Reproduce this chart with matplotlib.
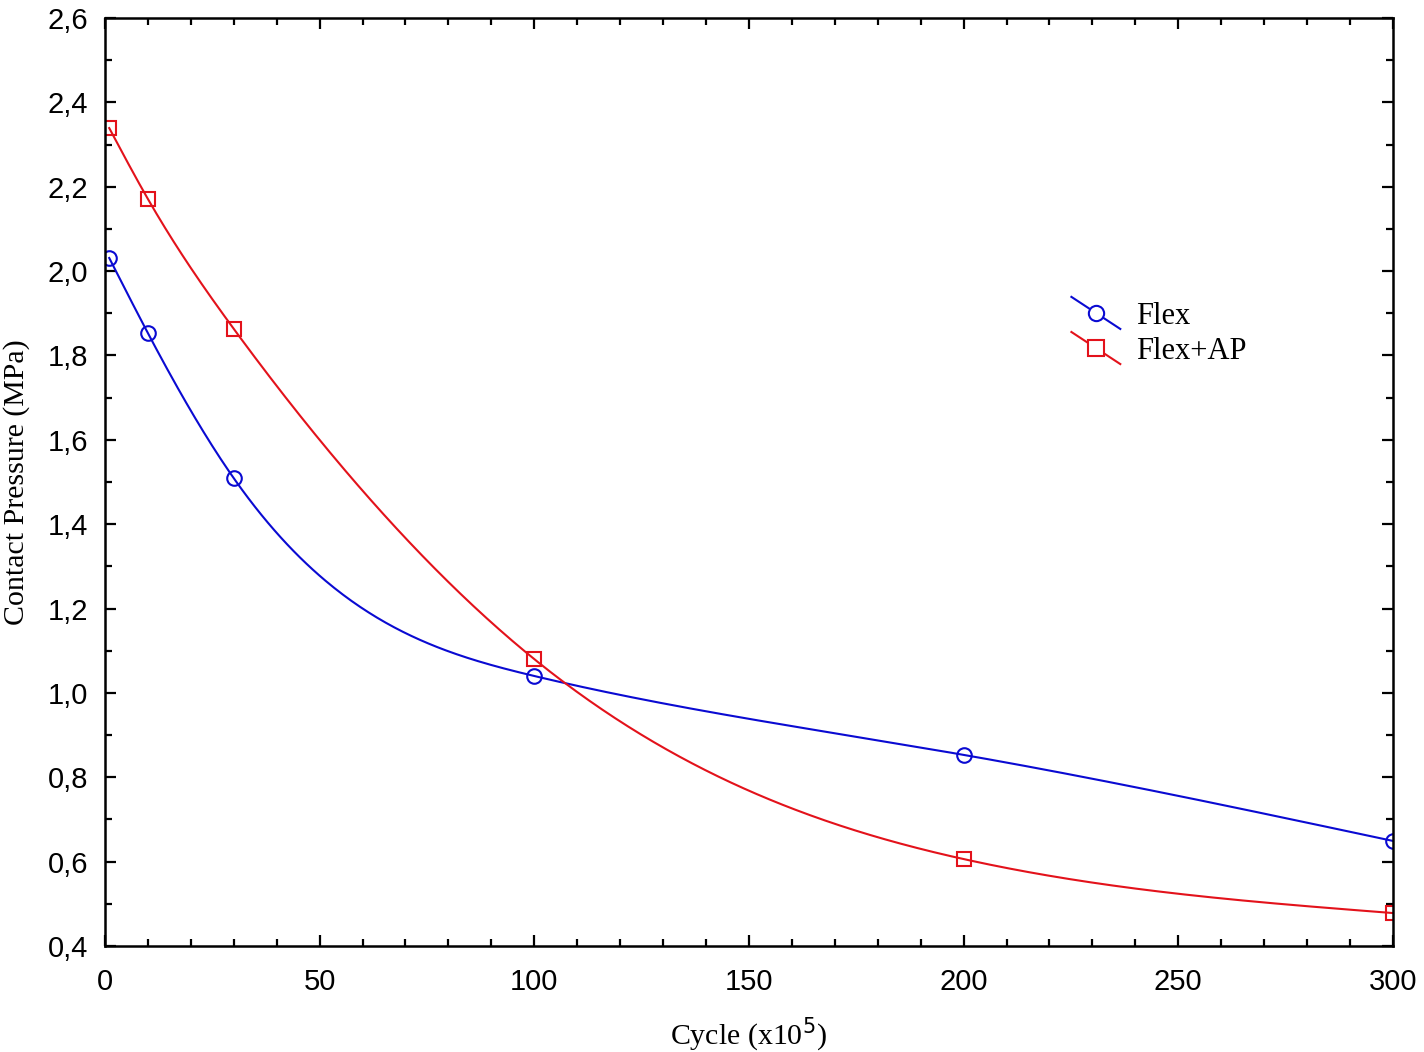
import numpy as np
import matplotlib
matplotlib.use("Agg")
import matplotlib.pyplot as plt
from matplotlib.legend_handler import HandlerLine2D
from matplotlib.lines import Line2D
from matplotlib.ticker import MultipleLocator, FuncFormatter

# data
cycles = [1, 10, 30, 100, 200, 300]
flex = [2.031, 1.853, 1.509, 1.040, 0.853, 0.649]
flex_ap = [2.339, 2.171, 1.863, 1.080, 0.606, 0.478]

BLUE = '#0a0ad2'
RED = '#e3121b'


def natural_spline(x, y, xs):
    """natural cubic spline through (x, y), evaluated at xs"""
    x = np.asarray(x, float)
    y = np.asarray(y, float)
    n = len(x)
    h = np.diff(x)
    A = np.zeros((n, n))
    b = np.zeros(n)
    A[0, 0] = A[-1, -1] = 1
    for i in range(1, n - 1):
        A[i, i - 1] = h[i - 1]
        A[i, i] = 2 * (h[i - 1] + h[i])
        A[i, i + 1] = h[i]
        b[i] = 6 * ((y[i + 1] - y[i]) / h[i] - (y[i] - y[i - 1]) / h[i - 1])
    M = np.linalg.solve(A, b)
    idx = np.clip(np.searchsorted(x, xs) - 1, 0, n - 2)
    x0, x1 = x[idx], x[idx + 1]
    hh = x1 - x0
    t0, t1 = x1 - xs, xs - x0
    return (M[idx] * t0 ** 3 / (6 * hh) + M[idx + 1] * t1 ** 3 / (6 * hh)
            + (y[idx] / hh - M[idx] * hh / 6) * t0
            + (y[idx + 1] / hh - M[idx + 1] * hh / 6) * t1)


class SlantHandler(HandlerLine2D):
    # legend sample drawn as a short diagonal line, marker in the middle
    def create_artists(self, legend, orig_handle, xdescent, ydescent,
                       width, height, fontsize, trans):
        arts = super().create_artists(legend, orig_handle, xdescent, ydescent,
                                      width, height, fontsize, trans)
        x0, x1 = -xdescent, -xdescent + width
        yc = height / 2 - ydescent
        rise = 0.75 * height
        for a in arts:
            n = len(a.get_xdata())
            xd = np.linspace(x0, x1, n) if n > 1 else np.array([(x0 + x1) / 2])
            yd = yc + rise - 2 * rise * (xd - x0) / (x1 - x0)
            a.set_xdata(xd)
            a.set_ydata(yd)
        return arts


fig = plt.figure(figsize=(14.24, 10.52), dpi=100)
ax = fig.add_axes([0.0737, 0.1008, 0.9045, 0.8821])

xs = np.linspace(cycles[0], cycles[-1], 600)
ax.plot(xs, natural_spline(cycles, flex, xs), color=BLUE, lw=1.5)
ax.plot(xs, natural_spline(cycles, flex_ap, xs), color=RED, lw=1.5)
ax.plot(cycles, flex, 'o', mfc='none', mec=BLUE, ms=10.5, mew=1.5)
ax.plot(cycles, flex_ap, 's', mfc='none', mec=RED, ms=10.5, mew=1.5)

h1 = Line2D([], [], color=BLUE, lw=1.5, marker='o', mfc='white', mec=BLUE, ms=11, mew=1.5)
h2 = Line2D([], [], color=RED, lw=1.5, marker='s', mfc='white', mec=RED, ms=11, mew=1.5)
leg = ax.legend([h1, h2], ['Flex', 'Flex+AP'], loc='upper left',
                bbox_to_anchor=(0.729, 0.724), frameon=False,
                prop={'family': 'Liberation Serif', 'size': 22},
                handlelength=1.6, handletextpad=0.5, labelspacing=0.2,
                handler_map={Line2D: SlantHandler()})

ax.set_xlim(0, 300)
ax.set_ylim(0.4, 2.6)
ax.xaxis.set_major_locator(MultipleLocator(50))
ax.xaxis.set_minor_locator(MultipleLocator(10))
ax.yaxis.set_major_locator(MultipleLocator(0.2))
ax.yaxis.set_minor_locator(MultipleLocator(0.1))
ax.yaxis.set_major_formatter(FuncFormatter(lambda v, p: f'{v:.1f}'.replace('.', ',')))
ax.tick_params(which='both', direction='in', top=True, right=True,
               width=1.6, labelsize=21)
ax.tick_params(axis='x', which='major', pad=16)
ax.tick_params(axis='y', which='major', pad=12)
ax.tick_params(which='major', length=8)
ax.tick_params(which='minor', length=5)
for lab in ax.get_xticklabels() + ax.get_yticklabels():
    lab.set_family('Liberation Sans')
for sp in ax.spines.values():
    sp.set_linewidth(1.8)

ax.set_xlabel('Cycle (x10$^5$)', family='Liberation Serif', fontsize=21.5, labelpad=14)
ax.set_ylabel('Contact Pressure (MPa)', family='Liberation Serif', fontsize=21.5)
ax.yaxis.set_label_coords(-0.0585, 0.5)

fig.savefig('out.png', dpi=100)
